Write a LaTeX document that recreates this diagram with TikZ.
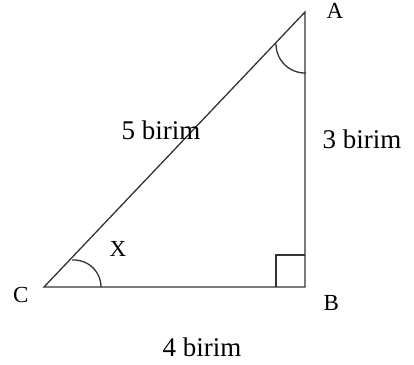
\documentclass[tikz,border=0pt]{standalone}
\usepackage{fontspec}
\setmainfont{Liberation Serif}
\usetikzlibrary{calc}
\begin{document}
\begin{tikzpicture}[x=1pt,y=-1pt,
  edge/.style={draw=black!80,line width=1.3pt},
  lbl/.style={inner sep=0pt,anchor=base west,font=\fontsize{27}{31}\selectfont},
  vlbl/.style={inner sep=0pt,anchor=base west,font=\fontsize{23}{27}\selectfont}]
\useasboundingbox (0,0) rectangle (414,364);
\coordinate (A) at (305,12);
\coordinate (B) at (305,287);
\coordinate (C) at (44,287);
\draw[edge,line join=miter] (C) -- (A) -- (B) -- cycle;
% right angle mark
\draw[edge] ($(B)+(-29,0)$) -- ($(B)+(-29,-32)$) -- ($(B)+(0,-32)$);
% angle arcs
\draw[edge] ($(C)+(57,0)$) arc[start angle=0,end angle=-94,radius=27];
\draw[edge] ($(A)+(1,61)$) arc[start angle=88,end angle=180,radius=29];
% labels
\node[vlbl] (lA) at (326.5,18.5) {A};
\node[vlbl] (lB) at (323.5,310) {B};
\node[vlbl] (lC) at (13,302.5) {C};
\node[vlbl] (lX) at (109.5,256) {X};
\node[lbl] (l5) at (121.5,139.5) {5 birim};
\node[lbl] (l3) at (322.5,148) {3 birim};
\node[lbl] (l4) at (162.5,356) {4 birim};
\end{tikzpicture}
\end{document}
